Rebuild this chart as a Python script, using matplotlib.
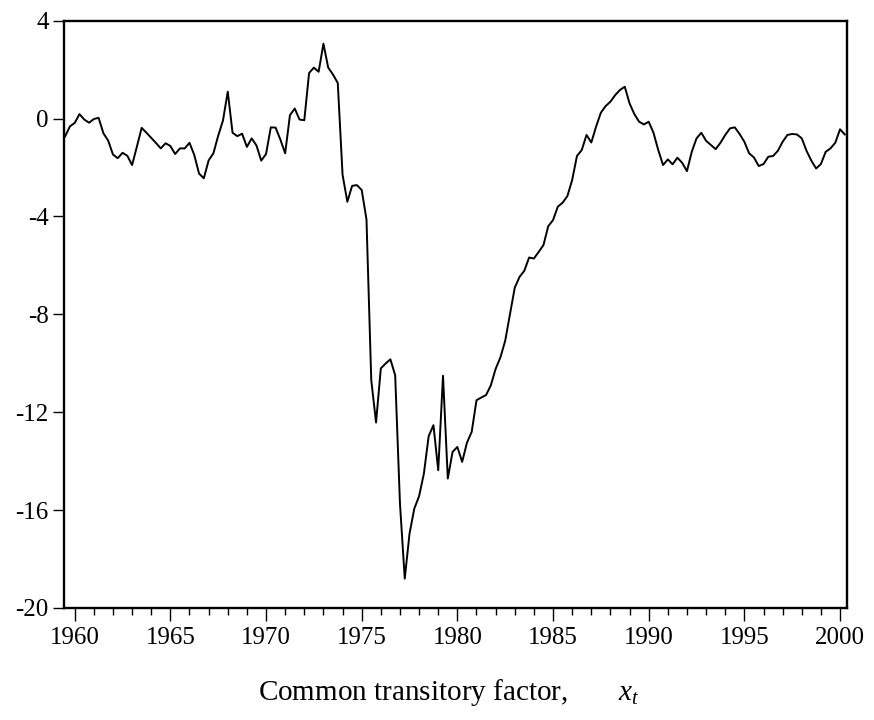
import numpy as np
import matplotlib
matplotlib.use("Agg")
import matplotlib.pyplot as plt
from matplotlib.ticker import FixedLocator, FixedFormatter, MultipleLocator

# quarterly observations, 1959Q3 .. 2000Q2
start_year = 1959.5
x_t = [
    -0.73, -0.32, -0.18, 0.18, -0.04, -0.17, -0.02, 0.03,
    -0.60, -0.90, -1.47, -1.62, -1.40, -1.52, -1.90, -1.15,
    -0.38, -0.58, -0.79, -1.00, -1.22, -1.01, -1.12, -1.45,
    -1.22, -1.22, -0.99, -1.49, -2.25, -2.44, -1.71, -1.42,
    -0.70, -0.08, 1.10, -0.58, -0.72, -0.62, -1.16, -0.81,
    -1.10, -1.72, -1.45, -0.36, -0.37, -0.86, -1.42, 0.14,
    0.41, -0.04, -0.07, 1.86, 2.08, 1.91, 3.06, 2.08,
    1.80, 1.45, -2.30, -3.40, -2.75, -2.72, -2.92, -4.12,
    -10.69, -12.42, -10.21, -10.01, -9.84, -10.49, -15.73, -18.80,
    -16.96, -15.94, -15.43, -14.51, -12.98, -12.53, -14.37, -10.51,
    -14.71, -13.62, -13.42, -14.03, -13.25, -12.80, -11.51, -11.40,
    -11.30, -10.90, -10.23, -9.76, -9.08, -8.00, -6.91, -6.47,
    -6.22, -5.68, -5.72, -5.45, -5.17, -4.40, -4.15, -3.60,
    -3.44, -3.17, -2.51, -1.53, -1.29, -0.67, -0.98, -0.33,
    0.24, 0.51, 0.69, 0.96, 1.17, 1.30, 0.62, 0.18,
    -0.13, -0.24, -0.13, -0.58, -1.29, -1.90, -1.67, -1.87,
    -1.60, -1.81, -2.15, -1.36, -0.81, -0.58, -0.91, -1.08,
    -1.25, -0.99, -0.67, -0.40, -0.36, -0.63, -0.95, -1.42,
    -1.59, -1.94, -1.86, -1.56, -1.53, -1.32, -0.95, -0.67,
    -0.63, -0.65, -0.81, -1.32, -1.72, -2.04, -1.86, -1.36,
    -1.22, -0.99, -0.44, -0.65,
]
year_ticks = [1960, 1965, 1970, 1975, 1980, 1985, 1990, 1995, 2000]
value_ticks = [4, 0, -4, -8, -12, -16, -20]
value_labels = ["4", "0", "-4", "-8", "-12", "-16", "-20"]
xlabel = "Common transitory factor,       $x_t$"

plt.rcParams["font.family"] = ["Liberation Serif", "DejaVu Serif"]
plt.rcParams["mathtext.fontset"] = "custom"
plt.rcParams["mathtext.rm"] = "Liberation Serif"
plt.rcParams["mathtext.it"] = "Liberation Serif:italic"
plt.rcParams["axes.unicode_minus"] = False

dates = start_year + 0.25 * np.arange(len(x_t))

fig = plt.figure(figsize=(8.74, 7.2), dpi=100)
ax = fig.add_axes([0.0732, 0.1556, 0.8956, 0.8157])
ax.plot(dates, x_t, color="black", lw=1.4)

ax.set_xlim(1959.44, 2000.35)
ax.set_ylim(-20, 4)

ax.xaxis.set_major_locator(FixedLocator(year_ticks))
ax.xaxis.set_minor_locator(MultipleLocator(1))
ax.yaxis.set_major_locator(FixedLocator(value_ticks))
ax.yaxis.set_major_formatter(FixedFormatter(value_labels))

ax.tick_params(axis="x", which="major", direction="out", length=9.5, width=1.0,
               labelsize=18, pad=4)
ax.tick_params(axis="x", which="minor", direction="out", length=5, width=1.0)
ax.tick_params(axis="y", which="major", direction="out", length=8, width=1.0,
               labelsize=18, pad=3)
for s in ax.spines.values():
    s.set_linewidth(1.7)

ax.set_xlabel(xlabel, fontsize=21)
ax.xaxis.set_label_coords(0.492, -0.118)

fig.savefig("out.png", dpi=100)
